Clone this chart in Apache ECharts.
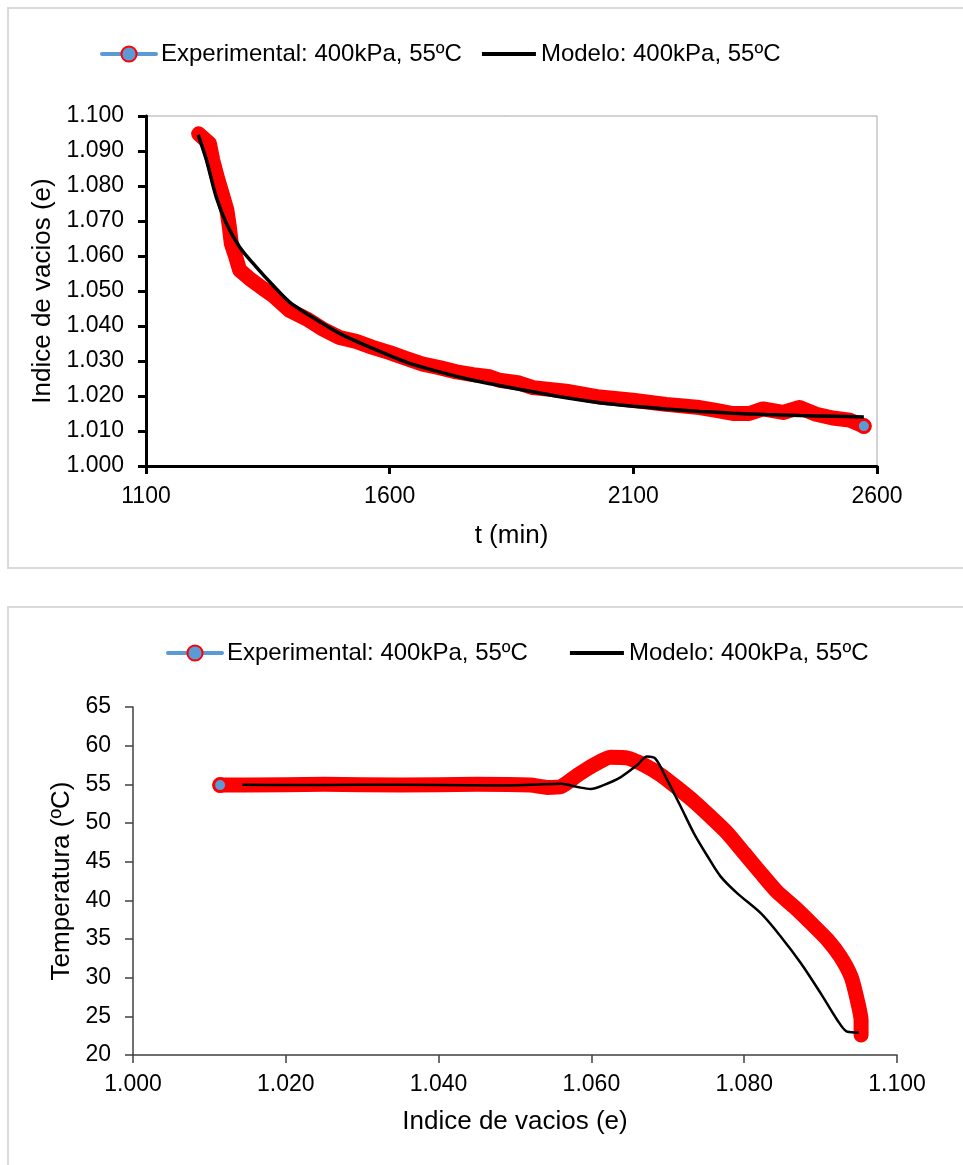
<!DOCTYPE html>
<html>
<head>
<meta charset="utf-8">
<script src="https://cdn.jsdelivr.net/npm/echarts@6/dist/echarts.min.js"></script>
<style>
  html, body { margin: 0; padding: 0; background: #fff; }
  #chart { width: 963px; height: 1165px; }
</style>
</head>
<body>
<div id="chart"></div>
<script>
// Series names shown in both legends
const legendNames = ['Experimental: 400kPa, 55ºC', 'Modelo: 400kPa, 55ºC'];

// Void ratio against time: measured
const expTime = [1208, 1230, 1237, 1246, 1256, 1266, 1271, 1275, 1284, 1292, 1312, 1340, 1360, 1394,
  1429, 1463, 1497, 1531, 1565, 1600, 1634, 1668, 1702, 1737, 1771, 1805, 1825, 1866, 1894, 1962,
  2031, 2099, 2167, 2236, 2270, 2304, 2338, 2366, 2407, 2441, 2475, 2509, 2544, 2573];
const expVoid = [1.0949, 1.0922, 1.0874, 1.0826, 1.0779, 1.0731, 1.0683, 1.0636, 1.0598, 1.0560, 1.0536,
  1.0507, 1.0488, 1.0445, 1.0421, 1.0391, 1.0367, 1.0356, 1.0339, 1.0324, 1.0307, 1.0291, 1.0281,
  1.0269, 1.0261, 1.0255, 1.0245, 1.0237, 1.0224, 1.0214, 1.0197, 1.0188, 1.0176, 1.0167, 1.0159,
  1.0150, 1.0150, 1.0163, 1.0153, 1.0167, 1.0148, 1.0137, 1.0131, 1.0114];

// Void ratio against time: model
const modTime = [1207, 1224, 1244, 1265, 1292, 1326, 1360, 1394, 1429, 1497, 1565, 1634, 1702, 1771,
  1825, 1894, 1962, 2031, 2099, 2167, 2236, 2304, 2373, 2441, 2509, 2573];
const modVoid = [1.0946, 1.0874, 1.0769, 1.0693, 1.0626, 1.0569, 1.0517, 1.0469, 1.0436, 1.0379, 1.0336,
  1.0297, 1.0269, 1.0245, 1.0230, 1.0212, 1.0195, 1.0181, 1.0171, 1.0163, 1.0156, 1.0151, 1.0147,
  1.0144, 1.0142, 1.0140];

// Temperature against void ratio: measured
const expVoidT = [1.0953, 1.0953, 1.0948, 1.0940, 1.0926, 1.0909, 1.0887, 1.0865, 1.0843, 1.0822, 1.0800,
  1.0778, 1.0756, 1.0734, 1.0713, 1.0691, 1.0669, 1.0647, 1.0625, 1.0603, 1.0582, 1.0560, 1.0542,
  1.0520, 1.0450, 1.0350, 1.0250, 1.0150, 1.0114];
const expTemp = [22.6, 24.5, 27.1, 30.1, 32.7, 34.9, 37.1, 39.2, 41.1, 43.5, 46.1, 48.7, 50.8, 52.8, 54.5,
  56.2, 57.5, 58.4, 58.5, 57.5, 56.2, 54.7, 54.6, 54.9, 55.0, 54.9, 55.0, 54.9, 54.9];

// Temperature against void ratio: model
const modVoidT = [1.0950, 1.0935, 1.0922, 1.0900, 1.0874, 1.0848, 1.0822, 1.0791, 1.0769, 1.0752, 1.0734,
  1.0717, 1.0699, 1.0684, 1.0673, 1.0660, 1.0638, 1.0616, 1.0599, 1.0582, 1.0560, 1.0520, 1.0476,
  1.0400, 1.0300, 1.0200, 1.0143];
const modTemp = [22.9, 23.0, 24.5, 28.0, 31.9, 35.3, 38.3, 40.9, 43.1, 45.7, 48.7, 52.1, 55.6, 58.3, 58.6,
  57.5, 55.9, 54.9, 54.4, 54.65, 55.07, 54.94, 54.85, 54.9, 54.95, 54.9, 54.94];

// Tick values of the time axis
const timeTicks = [1100, 1600, 2100, 2600];

const FONT = "'Liberation Sans', Arial, sans-serif";
const RED = '#FF0000';
const BLUE = '#5B9BD5';

function pairs(xs, ys) {
  return xs.map((x, i) => [x, ys[i]]);
}
// Measured series: the last reading keeps its visible marker
function measured(xs, ys) {
  const d = pairs(xs, ys);
  const last = d.length - 1;
  d[last] = { value: d[last], symbol: 'circle', symbolSize: 13 };
  return d;
}

const legendItems = [
  { name: legendNames[0],
    itemStyle: { color: BLUE, borderColor: RED, borderWidth: 2 },
    lineStyle: { color: BLUE, width: 4 } },
  { name: legendNames[1], icon: 'path://M0,0H54V4H0Z', itemStyle: { color: '#000', borderWidth: 0 } }
];

const tickText = { fontFamily: FONT, fontSize: 23, color: '#000' };
const nameText = { fontFamily: FONT, fontSize: 26, color: '#000' };
const legendText = { fontFamily: FONT, fontSize: 24, color: '#000' };

const chart = echarts.init(document.getElementById('chart'), null, { renderer: 'canvas' });
chart.setOption({
  animation: false,
  backgroundColor: '#fff',
  graphic: [
    { type: 'rect', silent: true, shape: { x: 8, y: 8, width: 962, height: 560 },
      style: { fill: 'none', stroke: '#d9d9d9', lineWidth: 2 } },
    { type: 'rect', silent: true, shape: { x: 8, y: 607, width: 962, height: 560 },
      style: { fill: 'none', stroke: '#d9d9d9', lineWidth: 2 } }
  ],
  legend: [
    { left: 95, top: 37, itemWidth: 54, itemHeight: 19, itemGap: 20, selectedMode: false,
      textStyle: legendText, data: legendItems },
    { left: 161, top: 636, itemWidth: 54, itemHeight: 19, itemGap: 42, selectedMode: false,
      textStyle: legendText, data: legendItems }
  ],
  grid: [
    { left: 146, top: 116, width: 731, height: 350, show: true, borderColor: '#a6a6a6', borderWidth: 1,
      backgroundColor: 'transparent' },
    { left: 133, top: 707, width: 764, height: 348 }
  ],
  xAxis: [
    { type: 'value', gridIndex: 0, min: 1100, max: 2600,
      name: 't (min)', nameLocation: 'middle', nameGap: 57, nameTextStyle: nameText,
      axisLine: { show: true, onZero: false, lineStyle: { color: '#000', width: 3 } },
      axisTick: { show: true, length: 8, customValues: timeTicks, lineStyle: { color: '#000', width: 3 } },
      axisLabel: Object.assign({ margin: 19, customValues: timeTicks, formatter: v => String(v) }, tickText),
      splitLine: { show: false } },
    { type: 'value', gridIndex: 1, min: 1.0, max: 1.1, interval: 0.02,
      name: 'Indice de vacios (e)', nameLocation: 'middle', nameGap: 54, nameTextStyle: nameText,
      axisLine: { show: true, onZero: false, lineStyle: { color: '#404040', width: 1.5 } },
      axisTick: { show: true, length: 8, lineStyle: { color: '#404040', width: 1.5 } },
      axisLabel: Object.assign({ margin: 18, formatter: v => v.toFixed(3) }, tickText),
      splitLine: { show: false } }
  ],
  yAxis: [
    { type: 'value', gridIndex: 0, min: 1.0, max: 1.1, interval: 0.01,
      name: 'Indice de vacios (e)', nameLocation: 'middle', nameGap: 89, nameRotate: 90, nameTextStyle: nameText,
      axisLine: { show: true, onZero: false, lineStyle: { color: '#000', width: 3 } },
      axisTick: { show: true, length: 8, lineStyle: { color: '#000', width: 3 } },
      axisLabel: Object.assign({ margin: 22, formatter: v => v.toFixed(3) }, tickText),
      splitLine: { show: false } },
    { type: 'value', gridIndex: 1, min: 20, max: 65, interval: 5,
      name: 'Temperatura (ºC)', nameLocation: 'middle', nameGap: 53, nameRotate: 90, nameTextStyle: nameText,
      axisLine: { show: true, onZero: false, lineStyle: { color: '#404040', width: 1.5 } },
      axisTick: { show: true, length: 8, lineStyle: { color: '#404040', width: 1.5 } },
      axisLabel: Object.assign({ margin: 22 }, tickText),
      splitLine: { show: false } }
  ],
  series: [
    { name: legendNames[0], type: 'line', xAxisIndex: 0, yAxisIndex: 0, z: 2,
      data: measured(expTime, expVoid), symbol: 'none', showSymbol: true,
      lineStyle: { color: RED, width: 15, cap: 'round', join: 'round' },
      itemStyle: { color: BLUE, borderColor: RED, borderWidth: 3 } },
    { name: legendNames[1], type: 'line', xAxisIndex: 0, yAxisIndex: 0, z: 3,
      data: pairs(modTime, modVoid), symbol: 'none', smooth: 0.3,
      lineStyle: { color: '#000', width: 3.5 }, itemStyle: { color: '#000' } },
    { name: legendNames[0], type: 'line', xAxisIndex: 1, yAxisIndex: 1, z: 2,
      data: measured(expVoidT, expTemp), symbol: 'none', showSymbol: true, smooth: 0.2,
      lineStyle: { color: RED, width: 15, cap: 'round', join: 'round' },
      itemStyle: { color: BLUE, borderColor: RED, borderWidth: 3 } },
    { name: legendNames[1], type: 'line', xAxisIndex: 1, yAxisIndex: 1, z: 3,
      data: pairs(modVoidT, modTemp), symbol: 'none', smooth: 0.3,
      lineStyle: { color: '#000', width: 2.5 }, itemStyle: { color: '#000' } }
  ]
});
</script>
</body>
</html>
